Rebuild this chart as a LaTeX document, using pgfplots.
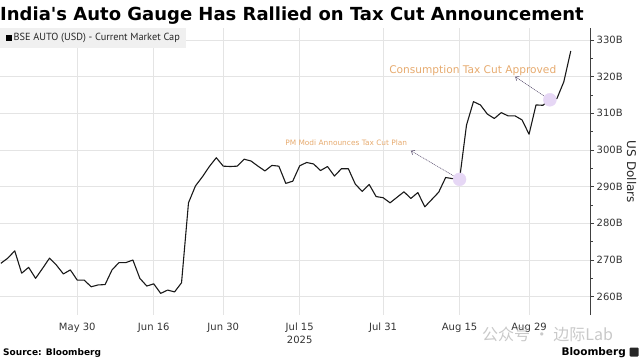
\documentclass[border=0pt]{standalone}
\usepackage{pgfplots}
\pgfplotsset{compat=1.18}
\usepackage{fontspec}
\setmainfont{DejaVu Sans}
\newfontfamily\ptsans{PT Sans}
\newfontfamily\cjk{Noto Sans CJK SC}
\usetikzlibrary{arrows.meta}
\definecolor{annot}{RGB}{230,170,110}
\definecolor{circ}{RGB}{230,215,245}
\definecolor{arr}{RGB}{100,90,120}
\definecolor{gridc}{RGB}{228,228,228}
\begin{document}
\begin{tikzpicture}
\useasboundingbox (0pt,0pt) rectangle (640pt,360pt);
\begin{axis}[
 at={(0pt,45pt)}, anchor=south west, scale only axis,
 width=590.7pt, height=286.7pt,
 xmin=-11.12, xmax=73.87, ymin=255, ymax=333.2,
 axis y line*=right, axis x line*=bottom,
 x axis line style={draw=none},
 y axis line style={draw=black!75, line width=0.8pt},
 xtick={0,11,21,32,44,55,65},
 xticklabels={May 30,Jun 16,Jun 30,{Jul 15\\2025},Jul 31,Aug 15,Aug 29},
 xticklabel style={align=center, font=\fontsize{10}{12.5}\selectfont, text=black!80, yshift=-1pt},
 x tick style={draw=none},
 ytick={260,270,...,330},
 yticklabels={260B,270B,280B,290B,300B,310B,320B,330B},
 minor y tick num=1,
 yticklabel style={font=\fontsize{10}{12}\selectfont, text=black!80, xshift=-1pt},
 tick align=outside,
 y tick style={black!75, line width=0.6pt},
 major tick length=3.5pt, minor tick length=2pt,
 grid=major, major grid style={gridc, line width=0.6pt},
 clip=false,
]
\addplot[only marks, mark=*, mark size=6.5pt, draw=circ, fill=circ, mark options={draw=circ, fill=circ}] coordinates {(55,292) (68,313.7)};
\addplot[black!90, line width=1.1pt, line join=round] coordinates {
(-11,269.1) (-10,270.5) (-9,272.5) (-8,266.4) (-7,268.0) (-6,265.0) (-5,267.7) (-4,270.5)
(-3,268.6) (-2,266.2) (-1,267.3) (0,264.5) (1,264.5) (2,262.7) (3,263.2) (4,263.3)
(5,267.3) (6,269.3) (7,269.3) (8,270.0) (9,265.0) (10,262.9) (11,263.5) (12,260.9)
(13,261.8) (14,261.3) (15,263.8) (16,285.6) (17,290.2) (18,292.7) (19,295.5) (20,297.9)
(21,295.6) (22,295.5) (23,295.6) (24,297.5) (25,297.0) (26,295.6) (27,294.3) (28,295.8)
(29,295.6) (30,290.9) (31,291.5) (32,295.7) (33,296.6) (34,296.2) (35,294.4) (36,295.5)
(37,292.9) (38,294.9) (39,294.9) (40,290.7) (41,288.7) (42,290.6) (43,287.3) (44,287.0)
(45,285.6) (46,287.1) (47,288.6) (48,286.8) (49,288.4) (50,284.5) (51,286.5) (52,288.5)
(53,292.5) (54,292.2) (55,292.0) (56,306.8) (57,313.2) (58,312.3) (59,309.8) (60,308.6)
(61,310.2) (62,309.3) (63,309.3) (64,308.2) (65,304.3) (66,312.3) (67,312.2) (68,314.0)
(69,314.0) (70,318.6) (71,327.0)
};
\draw[arr, line width=0.6pt, dash pattern=on 1pt off 0.8pt, -{Straight Barb[length=3pt,width=5pt]}] (axis cs:55,292) -- (axis cs:48,299.8);
\draw[arr, line width=0.6pt, dash pattern=on 1pt off 0.8pt, -{Straight Barb[length=3pt,width=5pt]}] (axis cs:68,313.7) -- (axis cs:63,320);
\node[text=annot, font=\fontsize{7.4}{8}\selectfont] at (axis cs:38.7,302) {PM Modi Announces Tax Cut Plan};
\node[text=annot, font=\fontsize{10.6}{12}\selectfont] at (axis cs:56.9,321.8) {Consumption Tax Cut Approved};
\end{axis}
\node[anchor=base west, inner sep=0, font=\bfseries\fontsize{18}{20}\selectfont] at (0pt,339.3pt) {India\textquotesingle s Auto Gauge Has Rallied on Tax Cut Announcement};
\fill[black!6] (0pt,312pt) rectangle (186pt,332pt);
\fill[black] (6pt,319pt) rectangle (12pt,325pt);
\node[anchor=west, inner sep=0, font=\ptsans\fontsize{10.3}{12}\selectfont, text=black!85] at (13.5pt,322pt) {BSE AUTO (USD) - Current Market Cap};
\node[rotate=-90, font=\fontsize{12}{14}\selectfont, text=black!85] at (631.7pt,188pt) {US Dollars};
\node[anchor=base west, inner sep=0, font=\bfseries\fontsize{9}{10}\selectfont] at (3pt,5pt) {Source: Bloomberg};
\node[anchor=base east, inner sep=0, font=\bfseries\fontsize{10.5}{12}\selectfont] at (626pt,5pt) {Bloomberg};
\fill[black!85, rounded corners=1pt] (629.5pt,3.5pt) rectangle (638.5pt,12.5pt);
\node[anchor=west, inner sep=0, text=black!30, opacity=0.7, font=\cjk\fontsize{16}{18}\selectfont] at (482pt,26pt) {公众号 · 边际Lab};
\end{tikzpicture}
\end{document}
